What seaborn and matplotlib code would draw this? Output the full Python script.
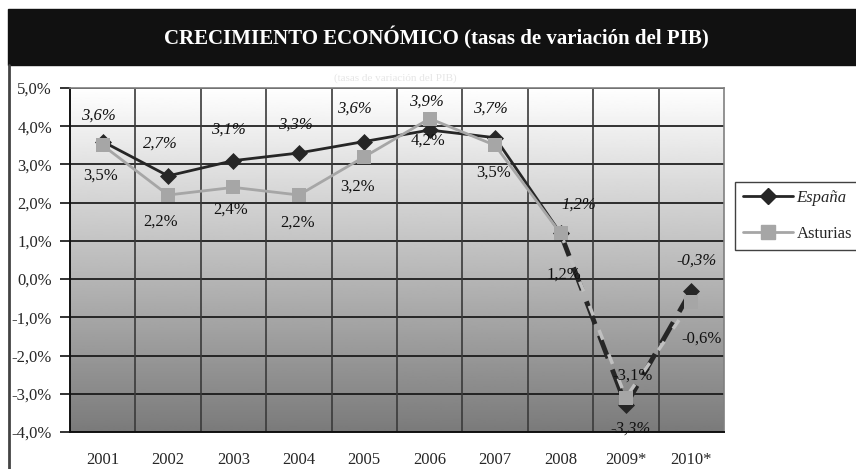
import numpy as np
import pandas as pd
import matplotlib
matplotlib.use("Agg")
import matplotlib.pyplot as plt
import seaborn as sns
from matplotlib.patches import Rectangle
from matplotlib.lines import Line2D

# --- DATA ---
years = ['2001', '2002', '2003', '2004', '2005', '2006', '2007', '2008', '2009*', '2010*']
espana = [3.6, 2.7, 3.1, 3.3, 3.6, 3.9, 3.7, 1.2, -3.3, -0.3]
asturias = [3.5, 2.2, 2.4, 2.2, 3.2, 4.2, 3.5, 1.2, -3.1, -0.6]
y_ticks = [-4, -3, -2, -1, 0, 1, 2, 3, 4, 5]

# label offsets in pixels (dx, dy) relative to each point
esp_off = [(-4, 26), (-8, 32), (-5, 31), (-3, 28), (-10, 33), (-3, 28), (-5, 29), (18, 29), (5, -23), (5, 30)]
ast_off = [(-2, -30), (-8, -27), (-3, -22), (-1, -28), (-7, -30), (-2, -22), (-2, -27), (3, -41), (7, 22), (10, -37)]

df = pd.DataFrame({'x': np.arange(len(years)), 'España': espana, 'Asturias': asturias})
split = 7  # estimates from 2008 onwards are dashed

sns.set_style("white")
plt.rcParams['font.family'] = ['Liberation Serif', 'DejaVu Serif']

fig = plt.figure(figsize=(8.56, 4.69), dpi=100)
ax = fig.add_axes([70 / 856, 1 - 432 / 469, 654 / 856, 344 / 469])

# --- BACKGROUND GRADIENT ---
grad = np.linspace(0.48, 1.0, 256).reshape(-1, 1)
ax.imshow(grad, cmap='gray', vmin=0, vmax=1, aspect='auto', origin='lower',
          extent=[-0.5, 9.5, -4, 5], zorder=0)

# --- GRID ---
for yv in y_ticks:
    ax.axhline(yv, color='#111111', lw=1.2, zorder=1)
for xv in np.arange(0.5, 9.5, 1):
    ax.axvline(xv, color='#3a3a3a', lw=1.2, zorder=1)

# --- LINES ---
solid = df.iloc[:split + 1]
dashed = df.iloc[split:]
sns.lineplot(data=solid, x='x', y='España', ax=ax, color='#262626', lw=2, zorder=3)
l_esp = sns.lineplot(data=dashed, x='x', y='España', ax=ax, color='#262626', lw=3.5, zorder=3).lines[-1]
l_esp.set_dashes([5, 2.5])
l_esp.set_dash_capstyle('butt')
sns.lineplot(data=solid, x='x', y='Asturias', ax=ax, color='#a6a6a6', lw=2, zorder=4)
l_ast = sns.lineplot(data=dashed, x='x', y='Asturias', ax=ax, color='#c0c0c0', lw=2.5, zorder=4).lines[-1]
l_ast.set_dashes([3, 4.5])
l_ast.set_dash_capstyle('butt')

sns.scatterplot(data=df, x='x', y='España', ax=ax, marker='D', s=75, color='#262626',
                edgecolor='#262626', linewidth=0, zorder=5)
sns.scatterplot(data=df, x='x', y='Asturias', ax=ax, marker='s', s=110, color='#a6a6a6',
                edgecolor='#a6a6a6', linewidth=0, zorder=6)

# --- DATA LABELS ---
for i in range(len(years)):
    ax.annotate(f"{espana[i]:.1f}%".replace('.', ','), (i, espana[i]), xytext=esp_off[i],
                textcoords='offset pixels', ha='center', va='center', fontsize=12,
                style='italic', color='#111111', zorder=7)
    ax.annotate(f"{asturias[i]:.1f}%".replace('.', ','), (i, asturias[i]), xytext=ast_off[i],
                textcoords='offset pixels', ha='center', va='center', fontsize=12,
                color='#111111', zorder=7)

# --- AXES ---
ax.set_xlim(-0.5, 9.5)
ax.set_ylim(-4, 5)
ax.set_xticks(np.arange(len(years)))
ax.set_xticklabels(years, fontsize=12)
ax.set_yticks(y_ticks)
ax.set_yticklabels([f"{v:.1f}%".replace('.', ',') for v in y_ticks], fontsize=12)
ax.tick_params(axis='y', left=True, length=7, width=1.2, color='#111111', pad=6)
ax.tick_params(axis='x', bottom=False, pad=11)
ax.set_xlabel('')
ax.set_ylabel('')
for side in ['left', 'bottom']:
    ax.spines[side].set_color('#111111')
    ax.spines[side].set_linewidth(1.4)
for side in ['top', 'right']:
    ax.spines[side].set_color('#808080')
    ax.spines[side].set_linewidth(1.2)

# --- TITLE BAND AND FRAME ---
fig.patches.append(Rectangle((8 / 856, 1 - 65 / 469), 848 / 856, 56 / 469,
                             transform=fig.transFigure, color='#111111', zorder=0))
fig.add_artist(Line2D([8.5 / 856, 8.5 / 856], [0, 1 - 65 / 469], transform=fig.transFigure,
                      color='#444444', lw=2))
fig.text(436 / 856, 1 - 38 / 469, 'CRECIMIENTO ECONÓMICO (tasas de variación del PIB)',
         color='white', fontsize=15, fontweight='bold', ha='center', va='center')
fig.text(395 / 856, 1 - 78 / 469, '(tasas de variación del PIB)', color='#e6e6e6',
         fontsize=8, ha='center', va='center')

# --- LEGEND ---
handles = [Line2D([], [], color='#262626', lw=2, marker='D', markersize=8),
           Line2D([], [], color='#a6a6a6', lw=2, marker='s', markersize=10)]
leg = fig.legend(handles, ['España', 'Asturias'], loc='upper left',
                 bbox_to_anchor=(735 / 856, 1 - 182 / 469), fontsize=12, frameon=True,
                 fancybox=False, edgecolor='#111111', handlelength=3.0, borderpad=0.45,
                 labelspacing=1.25, handletextpad=0.25, borderaxespad=0)
leg.get_frame().set_linewidth(1.0)
leg.get_texts()[0].set_fontstyle('italic')

plt.savefig('out.png', dpi=100)
